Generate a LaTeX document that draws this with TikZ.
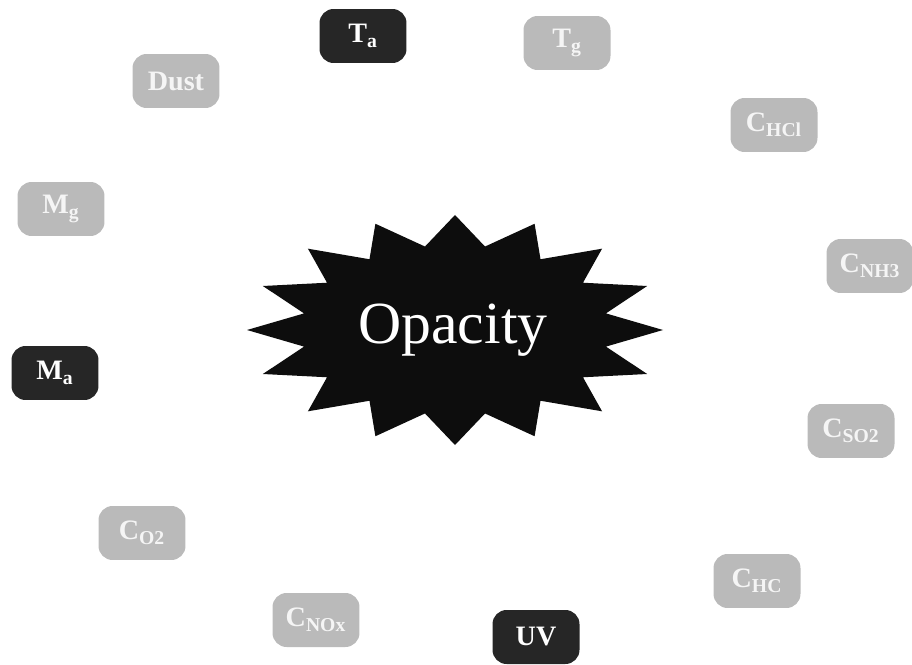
\documentclass[tikz,border=0pt]{standalone}
\usepackage{fontspec}
\setmainfont{Liberation Serif}

\begin{document}
\begin{tikzpicture}[
  x=0.02cm, y=-0.02cm,
  every node/.style={rounded corners=8pt, font=\fontsize{16}{18}\selectfont\bfseries, align=center,
                     minimum width=1.74cm, minimum height=1.08cm, inner sep=2pt, text=white},
  dark/.style={fill=black!85},
  pale/.style={fill=black!27, text=white!96!black},
  core/.style={fill=none, rounded corners=0pt, font=\fontsize{34}{38}\selectfont,
               minimum width=0pt, minimum height=0pt}
]
  \useasboundingbox (0,0) rectangle (912,665);
  % star burst
  \fill[black!95] (663,330)
    \foreach \k [evaluate=\k as \r using {ifthenelse(mod(\k,2)==0,1,0.74)}] in {1,...,31}
      { -- ({455+208*\r*cos(\k*11.25)},{330-115*\r*sin(\k*11.25)}) } -- cycle;
  \node[core] (opacity) at (453,330) {Opacity};
  % parameters round it
  \node[dark] (ta) at (363,36) {T$_\mathbf{a}$};
  \node[pale] (tg) at (567,43) {T$_\mathbf{g}$};
  \node[pale] (dust) at (176,81) {Dust};
  \node[pale] (chcl) at (774,125) {C$_\mathbf{HCl}$};
  \node[pale] (cnh3) at (870,266) {C$_\mathbf{NH3}$};
  \node[pale] (cso2) at (851,431) {C$_\mathbf{SO2}$};
  \node[pale] (mg) at (61,209) {M$_\mathbf{g}$};
  \node[dark] (ma) at (55,373) {M$_\mathbf{a}$};
  \node[pale] (co2) at (142,533) {C$_\mathbf{O2}$};
  \node[pale] (cnox) at (316,620) {C$_\mathbf{NOx}$};
  \node[dark] (uv) at (536,637) {UV};
  \node[pale] (chc) at (757,581) {C$_\mathbf{HC}$};
\end{tikzpicture}
\end{document}
